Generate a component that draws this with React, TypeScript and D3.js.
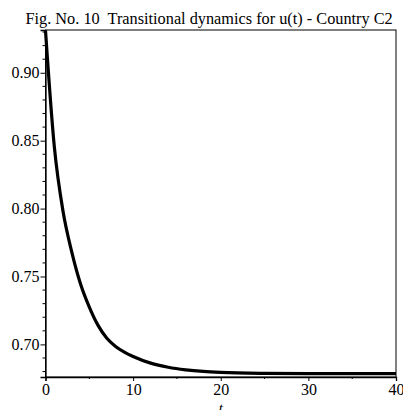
import React, { useEffect, useRef } from "react";
import * as d3 from "d3";

// values
const tValues = [0, 1, 2, 3, 4, 5, 6, 7, 8, 9, 10, 12, 14, 16, 18, 20, 25, 30, 35, 40];
const uValues = [0.931, 0.846, 0.798, 0.768, 0.7445, 0.7275, 0.714, 0.7045, 0.6985, 0.6943, 0.6911,
  0.6862, 0.6832, 0.6813, 0.6801, 0.6794, 0.6787, 0.6785, 0.6785, 0.6785];
const xTicks = [0, 10, 20, 30, 40];
const xMinorTicks = [5, 15, 25, 35];
const yTicks = [0.7, 0.75, 0.8, 0.85, 0.9];
const yMinorTicks = [0.68, 0.69, 0.71, 0.72, 0.73, 0.74, 0.76, 0.77, 0.78, 0.79,
  0.81, 0.82, 0.83, 0.84, 0.86, 0.87, 0.88, 0.89, 0.91, 0.92, 0.93];
const title = "Fig. No. 10  Transitional dynamics for u(t) - Country C2";

const width = 403, height = 410;
const margin = { top: 30, right: 7, bottom: 33, left: 45.5 };
const font = "'Liberation Serif', serif";

export default function App() {
  const ref = useRef<SVGSVGElement>(null);

  useEffect(() => {
    const svg = d3.select(ref.current);
    svg.selectAll("*").remove();

    const x = d3.scaleLinear().domain([0, 40]).range([margin.left, width - margin.right]);
    const y = d3.scaleLinear().domain([0.676, 0.9315]).range([height - margin.bottom, margin.top]);
    const data = tValues.map((t, i) => ({ t, u: uValues[i] }));

    svg.append("text").attr("x", 25.5).attr("y", 24.3)
      .style("font-family", font).style("font-size", "16.3px").attr("fill", "#000")
      .style("white-space", "pre").text(title);

    // frame
    svg.append("rect").attr("x", x(0)).attr("y", y(0.9315))
      .attr("width", x(40) - x(0)).attr("height", y(0.676) - y(0.9315))
      .attr("fill", "none").attr("stroke", "#000").attr("stroke-width", 1);

    // curve
    const line = d3.line<{ t: number; u: number }>().x(d => x(d.t)).y(d => y(d.u)).curve(d3.curveMonotoneX);
    svg.append("path").datum(data).attr("d", line).attr("fill", "none")
      .attr("stroke", "#000").attr("stroke-width", 3.2);

    // x axis
    const xg = svg.append("g").attr("transform", `translate(0,${y(0.676)})`);
    xg.call(d3.axisBottom(x).tickValues(xTicks).tickSize(4).tickFormat(d3.format("d")));
    xg.select(".domain").attr("stroke-width", 1.3);
    xg.selectAll("text").style("font-family", font).style("font-size", "16px").attr("fill", "#000")
      .attr("y", 7).attr("dy", "0.71em");
    xg.selectAll(".minor").data(xMinorTicks).join("line").attr("class", "minor")
      .attr("x1", d => x(d)).attr("x2", d => x(d)).attr("y1", 0).attr("y2", 2).attr("stroke", "#000");

    // y axis
    const yg = svg.append("g").attr("transform", `translate(${x(0)},0)`);
    yg.call(d3.axisLeft(y).tickValues(yTicks).tickSize(5).tickFormat(d3.format(".2f")));
    yg.select(".domain").attr("stroke-width", 1.3);
    yg.selectAll("text").style("font-family", font).style("font-size", "16px").attr("fill", "#000").attr("x", -6);
    yg.selectAll(".minor").data(yMinorTicks).join("line").attr("class", "minor")
      .attr("x1", -3).attr("x2", 0).attr("y1", d => y(d)).attr("y2", d => y(d)).attr("stroke", "#000");

    svg.append("text").attr("x", x(20)).attr("y", 413).attr("text-anchor", "middle")
      .style("font-family", font).style("font-style", "italic").style("font-size", "15px").text("t");
  }, []);

  return (
    <div style={{ position: "absolute", left: 0, top: 0 }}>
      <svg ref={ref} width={width} height={height} style={{ display: "block", background: "#fff" }} />
    </div>
  );
}
